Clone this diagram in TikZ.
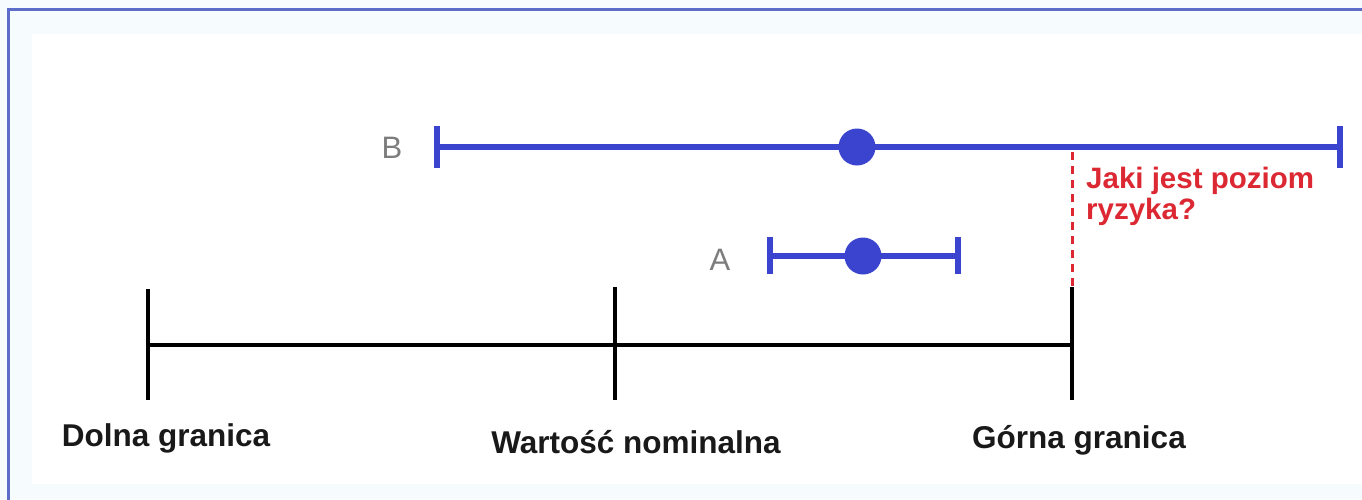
\documentclass[tikz,border=0pt]{standalone}
\usepackage{fontspec}
\setmainfont{Liberation Sans}
\definecolor{barblue}{RGB}{58,68,206}
\definecolor{frameblue}{RGB}{92,108,200}
\definecolor{riskred}{RGB}{220,40,50}
\definecolor{lblgray}{RGB}{125,125,125}
\definecolor{bandcyan}{RGB}{246,252,253}
\begin{document}
\begin{tikzpicture}[x=1pt,y=-1pt,
  axis/.style={line width=4.5pt,black},
  tick/.style={line width=4.5pt,black},
  bar/.style={line width=5.5pt,barblue},
  capline/.style={line width=5.5pt,barblue},
  dot/.style={circle,fill=barblue,inner sep=0pt,minimum size=#1},
  axlbl/.style={font=\fontsize{31.5}{36}\selectfont\bfseries,text=black!90,inner sep=0pt},
  letter/.style={font=\fontsize{31}{36}\selectfont,text=lblgray,inner sep=0pt},
  risk/.style={font=\fontsize{29.5}{31}\selectfont\bfseries,text=riskred,align=left,inner sep=0pt,anchor=north west},
  riskline/.style={line width=3pt,riskred,dash pattern=on 8pt off 6pt}
]
\useasboundingbox (0,0) rectangle (1362,499);
\fill[bandcyan] (0,0) rectangle (1362,499);
\fill[white] (32,34) rectangle (1362,484);
\draw[frameblue,line width=3pt] (8.5,520) -- (8.5,9.5) -- (1380,9.5);

% axis
\coordinate (lo) at (148,345);
\coordinate (nom) at (615,345);
\coordinate (hi) at (1072,345);
\draw[axis] (lo) -- (hi);
\draw[tick] (148,289) -- (148,400);
\draw[tick] (615,287) -- (615,400);
\draw[tick] (1072,287) -- (1072,400);
\node[axlbl] (llo) at (166,438) {Dolna granica};
\node[axlbl] (lnom) at (636,442) {Wartość nominalna};
\node[axlbl] (lhi) at (1079,440) {Górna granica};

% interval B
\coordinate (bl) at (437,147);
\coordinate (br) at (1340,147);
\draw[bar] (bl) -- (br);
\draw[capline] (437,126) -- (437,168);
\draw[capline] (1340,126) -- (1340,168);
\node[dot=37pt] (bm) at (857,147) {};
\node[letter] (lb) at (392,148) {B};

% interval A
\coordinate (al) at (770,256);
\coordinate (ar) at (958,256);
\draw[bar] (al) -- (ar);
\draw[capline] (770,237) -- (770,274);
\draw[capline] (958,237) -- (958,274);
\node[dot=37pt] (am) at (863,256) {};
\node[letter] (la) at (720,260) {A};

% risk
\coordinate (rtop) at (1072,152);
\coordinate (rbot) at (1072,287);
\draw[riskline] (rtop) -- (rbot);
\node[risk] (q) at (1086,167) {Jaki jest poziom\\ryzyka?};
\end{tikzpicture}
\end{document}
